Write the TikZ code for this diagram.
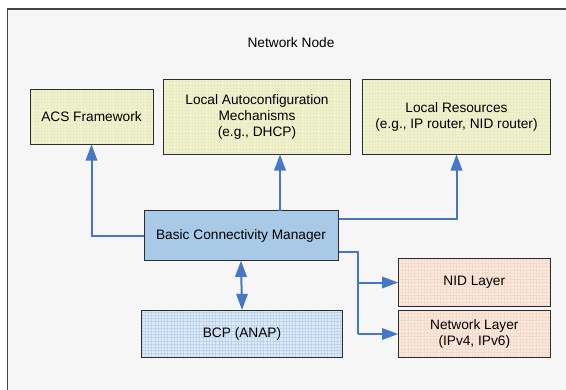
\documentclass[tikz,border=0pt]{standalone}
\usepackage{fontspec}
\setmainfont{Liberation Sans}
\definecolor{bgc}{RGB}{246,246,246}
\definecolor{framec}{RGB}{70,70,70}
\definecolor{yel}{RGB}{241,243,207}
\definecolor{yelgrid}{RGB}{232,235,195}
\definecolor{bcmc}{RGB}{169,202,231}
\definecolor{bcpc}{RGB}{222,234,246}
\definecolor{bcpgrid}{RGB}{190,212,238}
\definecolor{peach}{RGB}{252,233,221}
\definecolor{peachgrid}{RGB}{243,218,204}
\definecolor{arr}{RGB}{70,118,198}
\definecolor{edge}{RGB}{45,45,45}
\tikzset{
  box/.style={draw=edge, line width=1pt, align=center, inner sep=2pt,
    font=\fontsize{13.7}{16}\selectfont},
  gridfill/.style={path picture={\draw[#1, line width=0.35pt, step=3.2pt]
    (path picture bounding box.south west) grid (path picture bounding box.north east);}},
  conn/.style={draw=arr, line width=2pt},
  headfill/.style={fill=arr},
}
\begin{document}
\begin{tikzpicture}[x=1pt,y=-1pt]
\useasboundingbox (0,0) rectangle (566,389);
\fill[white] (0,0) rectangle (566,389);
\draw[framec, line width=1.5pt, fill=bgc] (7.5,9) rectangle (620,420);
\node[font=\fontsize{13.7}{16}\selectfont] (title) at (291,43) {Network Node};
\node[box, fill=yel, gridfill=yelgrid, minimum width=123pt, minimum height=55pt] (acs) at (91.5,116.5) {ACS Framework};
\node[box, fill=yel, gridfill=yelgrid, minimum width=187.5pt, minimum height=75pt] (lam) at (257,116.5) {Local Autoconfiguration\\Mechanisms\\(e.g., DHCP)};
\node[box, fill=yel, gridfill=yelgrid, minimum width=187.5pt, minimum height=75pt] (lr) at (456.5,116.5) {Local Resources\\(e.g., IP router, NID router)};
\node[box, fill=bcmc, minimum width=194pt, minimum height=49.5pt] (bcm) at (241,235.5) {Basic Connectivity Manager};
\node[box, fill=bcpc, gridfill=bcpgrid, minimum width=201.5pt, minimum height=47.5pt] (bcp) at (242,334) {BCP (ANAP)};
\node[box, fill=peach, gridfill=peachgrid, minimum width=151.5pt, minimum height=47.5pt] (nid) at (474.3,282.5) {NID Layer};
\node[box, fill=peach, gridfill=peachgrid, minimum width=151.5pt, minimum height=47.5pt] (net) at (474.3,334) {Network Layer\\(IPv4, IPv6)};
\coordinate (j1) at (91.5,236);
\coordinate (j2) at (280,211);
\coordinate (j3) at (456.5,219);
\coordinate (j4) at (358,252);
\coordinate (j5) at (358,282.5);
\coordinate (j6) at (358,334);
\draw[conn, shorten >=14pt] (bcm.west |- j1) -- (j1) -- (acs.south);
\draw[conn, shorten >=14pt] (j2) -- (j2 |- lam.south);
\draw[conn, shorten >=14pt] (bcm.east |- j3) -- (j3) -- (lr.south);
\draw[conn] (bcm.east |- j4) -- (j4) -- (j6);
\draw[conn, shorten >=14pt] (j5) -- (nid.west);
\draw[conn, shorten >=14pt] (j6) -- (net.west);
\draw[conn, shorten >=14pt, shorten <=14pt] (bcm.south) -- (bcp.north);
\fill[headfill] (acs.south) -- ++(-6,16) -- ++(12,0) -- cycle;
\fill[headfill] (j2 |- lam.south) -- ++(-6,16) -- ++(12,0) -- cycle;
\fill[headfill] (lr.south) -- ++(-6,16) -- ++(12,0) -- cycle;
\fill[headfill] (nid.west) -- ++(-16,-6) -- ++(0,12) -- cycle;
\fill[headfill] (net.west) -- ++(-16,-6) -- ++(0,12) -- cycle;
\fill[headfill] (bcm.south) -- ++(-6,16) -- ++(12,0) -- cycle;
\fill[headfill] (bcp.north) -- ++(-6,-16) -- ++(12,0) -- cycle;
\end{tikzpicture}
\end{document}
